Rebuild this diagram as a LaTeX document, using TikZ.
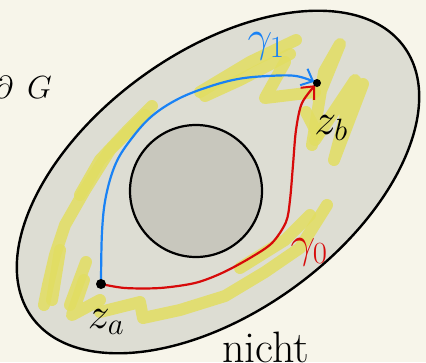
\RequirePackage{fix-cm}
\documentclass[tikz,border=0pt]{standalone}
\usetikzlibrary{arrows.meta}
\definecolor{paper}{RGB}{247,245,234}
\definecolor{ellfill}{RGB}{221,221,211}
\definecolor{holefill}{RGB}{200,199,189}
\definecolor{yel}{RGB}{226,222,98}
\definecolor{pblue}{RGB}{25,130,245}
\definecolor{pred}{RGB}{215,10,10}
\tikzset{
  hl/.style={yel, line width=12pt, line cap=round, line join=round, opacity=0.85},
  curveline/.style={line width=2.2pt, line cap=round, line join=round},
  tip/.style={-{Straight Barb[length=10pt,width=18pt,line width=2pt]}, shorten >=3pt},
  lab/.style={font=\fontsize{44}{46}\selectfont, inner sep=0pt},
  dot/.style={circle, fill=black, minimum size=10pt, inner sep=0pt}
}
\begin{document}
\begin{tikzpicture}[x=1pt,y=-1pt]
\useasboundingbox (0,0) rectangle (426,362);
\clip (0,0) rectangle (426,362);
\fill[paper] (0,0) rectangle (426,362);
% domain
\draw[line width=2.4pt, fill=ellfill, rotate around={36:(218,182)}] (218,182) ellipse [x radius=230, y radius=130];
% highlighter strokes
\draw[hl] (152,106) -- (130,128) -- (100,160) -- (80,195);
\draw[hl] (145,115) -- (110,150) -- (85,190) -- (65,225) -- (55,255) -- (48,285) -- (44,305);
\draw[hl] (60,250) -- (52,300);
\draw[hl] (86,262) -- (70,305);
\draw[hl] (84,280) -- (72,315) -- (100,300);
\draw[hl] (100,312) -- (140,302) -- (143,318) -- (180,310) -- (225,296) -- (265,272) -- (300,248) -- (327,205);
\draw[hl] (240,268) -- (285,240) -- (310,215);
\draw[hl] (200,92) -- (250,62) -- (296,40);
\draw[hl] (290,54) -- (240,80) -- (205,96);
\draw[hl] (285,62) -- (265,98) -- (315,92);
\draw[hl] (318,98) -- (340,44) -- (324,72) -- (312,145);
\draw[hl] (315,140) -- (355,80) -- (334,160) -- (363,84);
\draw[hl] (306,112) -- (318,135);
% hole
\draw[line width=2.2pt, fill=holefill] (196,191) circle [radius=66];
% points
\coordinate (za) at (101,284);
\coordinate (zb) at (317,83);
% curves
\draw[curveline, pblue, tip] plot[smooth, tension=0.6] coordinates {(za) (102,232) (106,196) (116,163) (132,138) (152,116) (178,99) (208,87) (238,79) (268,76) (296,76) (zb)};
\draw[curveline, pred, tip] plot[smooth, tension=0.5] coordinates {(za) (125,288) (160,288) (195,283) (222,273) (250,258) (272,243) (286,222) (290,200) (293,165) (296,130) (302,103) (zb)};
\node[dot] (pa) at (za) {};
\node[dot, minimum size=8pt] (pb) at (zb) {};
% labels
\node[lab, pblue] (g1) at (266,46) {$\gamma_1$};
\node[lab, pred] (g0) at (309,252) {$\gamma_0$};
\node[lab] (lzb) at (331,128) {$z_b$};
\node[lab] (lza) at (106,322) {$z_a$};
\node[font=\fontsize{32}{34}\selectfont, inner sep=0pt, anchor=base east] (dg) at (52,98) {$\partial\hspace{14pt}G$};
\node[font=\fontsize{44}{46}\selectfont, inner sep=0pt, anchor=base west] (nicht) at (222,362) {nicht};
\end{tikzpicture}
\end{document}
